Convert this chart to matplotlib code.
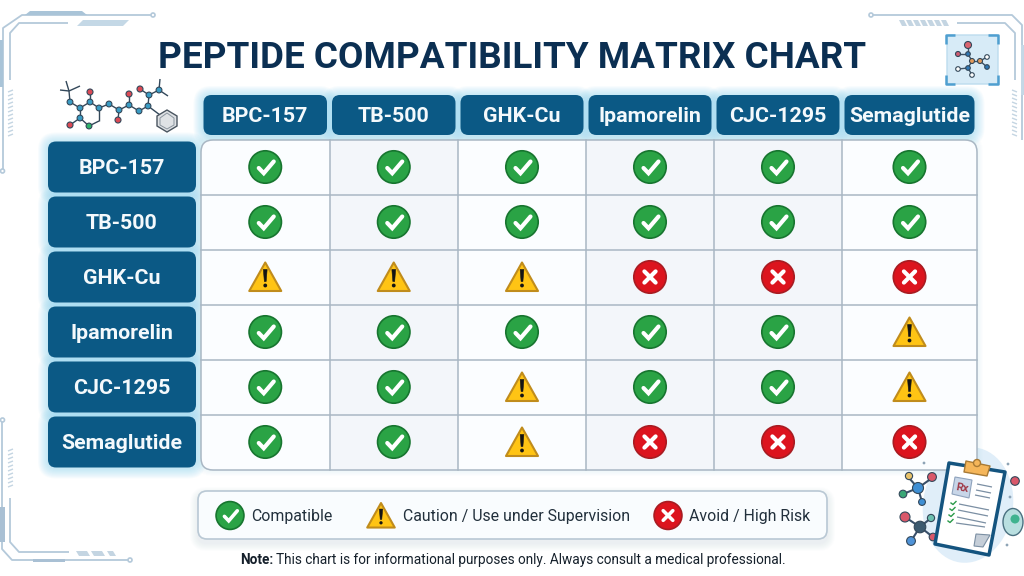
import matplotlib
matplotlib.use('Agg')
import matplotlib.pyplot as plt
from matplotlib.patches import FancyBboxPatch, Circle, Polygon, Rectangle, Ellipse

plt.rcParams['font.family'] = ['Roboto', 'DejaVu Sans']

peptides = ['BPC-157', 'TB-500', 'GHK-Cu', 'Ipamorelin', 'CJC-1295', 'Semaglutide']
# C = compatible, W = caution, X = avoid
matrix = [
    ['C', 'C', 'C', 'C', 'C', 'C'],
    ['C', 'C', 'C', 'C', 'C', 'C'],
    ['W', 'W', 'W', 'X', 'X', 'X'],
    ['C', 'C', 'C', 'C', 'C', 'W'],
    ['C', 'C', 'W', 'C', 'C', 'W'],
    ['C', 'C', 'W', 'X', 'X', 'X'],
]
legend_labels = ['Compatible', 'Caution / Use under Supervision', 'Avoid / High Risk']
legend_kinds = ['C', 'W', 'X']

# grid edges in pixels
col_edges = [201, 329.5, 458, 586, 714, 842, 977]
row_edges = [140, 195, 250, 305, 360, 415, 470]

NAVY = '#0b5985'
LINE = '#a9b7c4'
DECO = '#b4c9da'

fig = plt.figure(figsize=(10.24, 5.76), dpi=100, facecolor='white')
ax = fig.add_axes([0, 0, 1, 1])
ax.set_xlim(0, 1024)
ax.set_ylim(576, 0)
ax.axis('off')


def rbox(x0, y0, x1, y1, r, fc, ec='none', lw=0, z=2, alpha=None):
    p = FancyBboxPatch((x0 + r, y0 + r), x1 - x0 - 2 * r, y1 - y0 - 2 * r,
                       boxstyle='round,pad=%f,rounding_size=%f' % (r, r),
                       fc=fc, ec=ec, lw=lw, zorder=z, alpha=alpha)
    ax.add_patch(p)


def glow(x0, y0, x1, y1, r, color='#7fd0f2', size=10, strength=0.05, dy=1, z=1):
    for i in range(size, 0, -1):
        rbox(x0 - i, y0 - i + dy, x1 + i, y1 + i + dy, r + i, color, z=z, alpha=strength)


def header(x0, y0, x1, y1, r, label, fs):
    glow(x0, y0, x1, y1, r)
    rbox(x0, y0, x1, y1, r, NAVY, z=3)
    ax.text((x0 + x1) / 2, (y0 + y1) / 2 + 1.5, label, color='#f4f9fc', fontsize=fs, weight='bold',
            ha='center', va='center', zorder=4)


def icon(kind, cx, cy, s=1.0):
    if kind == 'C':
        ax.add_patch(Circle((cx, cy), 16.2 * s, fc='#2aa345', ec='#17752f', lw=1.2, zorder=5))
        ax.plot([cx - 6.5 * s, cx - 1.5 * s, cx + 8.5 * s], [cy + 1 * s, cy + 6.2 * s, cy - 5.5 * s],
                color='white', lw=3.0 * s, solid_joinstyle='miter', solid_capstyle='round', zorder=6)
    elif kind == 'W':
        ax.add_patch(Polygon([(cx, cy - 14.5 * s), (cx + 16 * s, cy + 14 * s), (cx - 16 * s, cy + 14 * s)],
                             closed=True, fc='#ffc414', ec='#c08c1c', lw=1.5, joinstyle='round', zorder=5))
        ax.add_patch(Polygon([(cx - 1.9 * s, cy - 7.5 * s), (cx + 1.9 * s, cy - 7.5 * s), (cx + 0.9 * s, cy + 4.5 * s), (cx - 0.9 * s, cy + 4.5 * s)],
                             closed=True, fc='#141414', ec='#141414', lw=0.4, zorder=6))
        ax.add_patch(Circle((cx, cy + 8.5 * s), 1.9 * s, fc='#141414', zorder=6))
    else:
        ax.add_patch(Circle((cx, cy), 16.2 * s, fc='#dc141e', ec='#a81c22', lw=1.2, zorder=5))
        d = 5.6 * s
        for sign in (1, -1):
            ax.plot([cx - d, cx + d], [cy - sign * d, cy + sign * d], color='white', lw=3.0 * s,
                    solid_capstyle='round', zorder=6)


def line(xs, ys, color=DECO, lw=1.3, z=1):
    ax.plot(xs, ys, color=color, lw=lw, zorder=z, solid_capstyle='butt')


def node(x, y, r, fc, ec='#33485a', lw=0.8, z=4):
    ax.add_patch(Circle((x, y), r, fc=fc, ec=ec, lw=lw, zorder=z))


def decorations():
    # top left corner
    line([153, 22, 3, 3, 2], [15, 15, 28, 170, 171])
    line([68, 19, 10, 10], [23, 23, 33, 80])
    ax.add_patch(Circle((153, 15), 2, fc='white', ec=DECO, lw=1.2, zorder=2))
    ax.add_patch(Circle((2.5, 171), 2, fc='white', ec=DECO, lw=1.2, zorder=2))
    ax.add_patch(Polygon([(25, 15), (30, 11), (82, 11), (87, 15)], fc='#a9c4d8', zorder=1))
    ax.add_patch(Polygon([(77, 26), (83, 20), (129, 20), (123, 26)], fc='#c4d8e6', zorder=1))
    ax.add_patch(Rectangle((0, 40), 3, 47, fc='#a9c4d8', zorder=1))
    for y in range(90, 137, 4):
        line([8, 13], [y + 2, y], color='#c4d5e2', lw=1)
    # top right corner
    line([871, 1012, 1022, 1022], [15, 15, 25, 140])
    line([957, 1005, 1015, 1015], [23, 23, 33, 80])
    ax.add_patch(Circle((871, 15), 2, fc='white', ec=DECO, lw=1.2, zorder=2))
    ax.add_patch(Rectangle((1021, 45), 3, 50, fc='#c4d8e6', zorder=1))
    for x in range(899, 945, 7):
        ax.add_patch(Polygon([(x, 20), (x + 5, 20), (x + 8, 26), (x + 3, 26)], fc='#c4d5e2', zorder=1))
    for y in range(90, 137, 4):
        line([1012, 1017], [y, y + 2], color='#c4d5e2', lw=1)
    # bottom left corner
    line([130, 12, 2, 2], [560, 560, 549, 420])
    line([69, 19, 10, 10], [552, 552, 542, 498])
    ax.add_patch(Circle((130, 560), 2, fc='white', ec=DECO, lw=1.2, zorder=2))
    ax.add_patch(Circle((2.5, 420), 2, fc='white', ec=DECO, lw=1.2, zorder=2))
    ax.add_patch(Rectangle((33, 558.5), 32, 3.5, fc='#a9c0d4', zorder=1))
    ax.add_patch(Rectangle((0, 507), 5, 35, fc='#a9c0d4', zorder=1))
    for x0, x1 in [(76, 90), (91, 105), (107, 116)]:
        ax.add_patch(Polygon([(x0, 551), (x1 - 3, 551), (x1, 556), (x0 + 3, 556)], fc='#c4d5e2', zorder=1))
    for y in range(449, 489, 4):
        line([8, 13], [y + 2, y], color='#c4d5e2', lw=1)

    # molecule at top left
    bonds = [(70, 102, 80, 108), (80, 108, 90, 102), (90, 102, 90, 92), (80, 108, 80, 118), (80, 118, 70, 125),
             (80, 118, 89, 126), (89, 126, 99, 121), (99, 121, 99, 108), (99, 108, 90, 102), (99, 108, 109, 104),
             (109, 104, 119, 110), (119, 110, 129, 105), (129, 105, 139, 111), (119, 110, 118, 120), (129, 105, 129, 94),
             (139, 111, 148, 106), (148, 106, 149, 95), (149, 95, 140, 89), (149, 95, 159, 90), (159, 90, 168, 96),
             (159, 90, 160, 79), (148, 106, 160, 115), (70, 102, 69, 91), (69, 91, 60, 90), (69, 91, 80, 86), (69, 91, 66, 81)]
    for x0, y0, x1, y1 in bonds:
        line([x0, x1], [y0, y1], color='#33485a', lw=1, z=3)
    for x, y in [(70, 102), (80, 108), (90, 102), (80, 118), (99, 108), (109, 104), (119, 110), (129, 105), (139, 111), (148, 106), (149, 95), (159, 90)]:
        node(x, y, 2.9, '#3a9cc4')
    for x, y in [(90, 92), (70, 125), (118, 120), (129, 94), (140, 89)]:
        node(x, y, 3, '#dc4a55')
    node(89, 126, 2.9, '#2fb26a')
    hexa = [(167, 110), (177, 116), (177, 126), (167, 132), (157, 126), (157, 116)]
    ax.add_patch(Polygon(hexa, fc='#dfe2e5', ec='#4a5560', lw=1, zorder=4))
    inner = [(167, 113), (174, 118), (174, 125), (167, 129), (160, 125), (160, 118)]
    ax.add_patch(Polygon(inner, fc='none', ec='#8a949e', lw=0.7, zorder=4))

    # small molecule panel top right
    rbox(947, 35, 998, 84, 2, '#d7ebf7', ec='#bcdcee', lw=1, z=2)
    for xs, ys in [([946, 946, 955], [44, 35, 35]), ([988, 998, 998], [35, 35, 44]),
                   ([946, 946, 955], [75, 84, 84]), ([988, 998, 998], [84, 84, 75])]:
        line(xs, ys, color='#4f9fd0', lw=1.8, z=3)
    for x0, y0, x1, y1 in [(968, 45, 968, 54), (958, 54, 968, 54), (968, 54, 972, 61), (972, 61, 980, 61),
                           (972, 61, 968, 68), (968, 68, 958, 69), (968, 68, 972, 75), (980, 61, 987, 57), (980, 61, 987, 67)]:
        line([x0, x1], [y0, y1], color='#3d5163', lw=1, z=3)
    node(968, 45, 3.5, '#d9636e')
    node(958, 54, 2.5, '#cf5c72')
    node(968, 54, 2.3, '#2f78b5')
    node(972, 61, 2.5, '#e49a5b')
    node(980, 61, 2.5, '#e49a5b')
    node(968, 68, 2.3, '#2f78b5')
    node(987, 67, 2.3, '#2f78b5')
    node(987, 57, 2.3, 'white')
    node(958, 69, 2.3, 'white')
    node(972, 75, 2.3, 'white')

    # clipboard art bottom right
    ax.add_patch(Ellipse((968, 505), 90, 116, angle=8, fc='#e0eef9', zorder=1))
    ax.add_patch(Polygon([(949, 463), (1005, 472), (989, 555), (935, 544)], fc='white', ec='#14547f', lw=2.5, joinstyle='round', zorder=5))
    ax.add_patch(Polygon([(966, 461), (990, 466), (987, 476), (964, 472)], fc='#f5b65a', ec='#a87a35', lw=1, joinstyle='round', zorder=6))
    ax.add_patch(Circle((977, 463), 3.5, fc='#f5b65a', ec='#a87a35', lw=1, zorder=6))
    ax.add_patch(Polygon([(955, 477), (972, 480), (969, 498), (952, 494)], fc='#c8d6e8', ec='#8fa3bd', lw=0.8, zorder=6))
    ax.text(962, 488, 'Rx', fontsize=8, color='#a03a48', weight='bold', ha='center', va='center', rotation=-10, zorder=7)
    for x0, y0, x1, y1 in [(977, 484, 992, 487), (976, 490, 991, 493), (975, 495, 990, 498), (959, 504, 989, 510),
                           (958, 510, 988, 516), (957, 517, 986, 523), (956, 523, 985, 527)]:
        line([x0, x1], [y0, y1], color='#7b8fa3', lw=0.9, z=6)
    for x, y in [(953, 503), (952, 509), (951, 515), (950, 521)]:
        ax.plot([x - 2, x, x + 3], [y, y + 1.5, y - 1.5], color='#2a9a4a', lw=1, zorder=6)
    ax.add_patch(Polygon([(976, 534), (990, 535), (983, 547), (974, 546)], fc='#c5ced8', ec='#7b8fa3', lw=0.8, zorder=6))
    for x0, y0, x1, y1 in [(909, 478, 918, 488), (918, 488, 932, 478), (918, 488, 903, 494), (918, 488, 922, 502),
                           (920, 527, 905, 517), (920, 527, 931, 518), (920, 527, 911, 541), (920, 527, 933, 537)]:
        line([x0, x1], [y0, y1], color='#39506a', lw=1.5, z=3)
    node(918, 488, 5.5, '#3f8fd4')
    node(909, 476, 3.6, '#e8c26a')
    node(932, 477, 4.4, '#d9586a')
    node(903, 494, 3.8, '#3aa676')
    node(922, 502, 3.4, '#3f8fd4')
    node(920, 527, 5.8, '#3c5a70')
    node(905, 517, 5, '#d9586a')
    node(931, 518, 3.6, '#6cc0b0')
    node(911, 541, 4.4, '#4f93d8')
    node(933, 537, 3.8, '#d9586a')
    node(1015, 481, 4.3, '#d9586a')
    ax.add_patch(Ellipse((1013, 522), 20, 27, fc='#b9dfe0', ec='#4a7080', lw=1, zorder=4))
    ax.add_patch(Circle((1015, 519), 4.5, fc='#3fb38f', zorder=5))
    for x, y in [(924, 463), (1008, 464), (1010, 497), (1007, 545)]:
        ax.add_patch(Circle((x, y), 1.4, fc='#8ea4b6', zorder=3))


decorations()

ax.text(512, 58.5, 'PEPTIDE COMPATIBILITY MATRIX CHART', color='#0b2f52', fontsize=26.6, weight='bold',
        ha='center', va='center', zorder=4)

# table body
n_rows = len(peptides)
n_cols = len(peptides)
x0, x1, y0, y1 = col_edges[0], col_edges[-1], row_edges[0], row_edges[-1]
glow(x0, y0, x1, y1, 12, color='#b5ddf2', size=6, strength=0.03, dy=0)
body = FancyBboxPatch((x0 + 12, y0 + 12), x1 - x0 - 24, y1 - y0 - 24,
                      boxstyle='round,pad=12,rounding_size=12', fc='#fbfdff', ec='none', zorder=2)
ax.add_patch(body)
for c in (1, 3, 4):
    shade = Rectangle((col_edges[c], y0), col_edges[c + 1] - col_edges[c], y1 - y0, fc='#f3f6fa', zorder=2)
    ax.add_patch(shade)
    shade.set_clip_path(body)
for x in col_edges[1:-1]:
    ax.plot([x, x], [y0, y1], color=LINE, lw=1.1, zorder=3)
for y in row_edges[1:-1]:
    ax.plot([x0, x1], [y, y], color=LINE, lw=1.1, zorder=3)
ax.add_patch(FancyBboxPatch((x0 + 12, y0 + 12), x1 - x0 - 24, y1 - y0 - 24,
                            boxstyle='round,pad=12,rounding_size=12', fc='none', ec=LINE, lw=1.1, zorder=3))

# headers
for c, name in enumerate(peptides):
    header(col_edges[c] + 2.5, 95, col_edges[c + 1] - 2.5, 135, 8, name, 15.4)
for r, name in enumerate(peptides):
    header(48, row_edges[r] + 1.5, 196, row_edges[r + 1] - 2.5, 8, name, 15.4)

# cells
for r in range(n_rows):
    for c in range(n_cols):
        icon(matrix[r][c], (col_edges[c] + col_edges[c + 1]) / 2, (row_edges[r] + row_edges[r + 1]) / 2 - 0.5)

# legend
for i in range(8, 0, -1):
    rbox(198 - i, 491 - i + 4, 827 + i, 539 + i + 4, 9 + i, '#9fb8cc', z=1, alpha=0.025)
rbox(198, 491, 827, 539, 9, '#f9fcfe', ec='#b9c8d4', lw=1.2, z=2)
legend_icon_x = [230, 381, 668]
legend_text_x = [251, 403, 689]
for kind, label, ix, tx in zip(legend_kinds, legend_labels, legend_icon_x, legend_text_x):
    icon(kind, ix, 515.5, 0.86)
    ax.text(tx, 516.5, label, color='#22303c', fontsize=11.4, ha='left', va='center', zorder=4)

ax.text(240, 560, 'Note:', color='#15202b', fontsize=9.8, weight='bold', ha='left', va='center', zorder=4)
ax.text(275.5, 560, 'This chart is for informational purposes only. Always consult a medical professional.',
        color='#15202b', fontsize=9.8, ha='left', va='center', zorder=4)

fig.savefig('out.png', dpi=100, facecolor='white')
